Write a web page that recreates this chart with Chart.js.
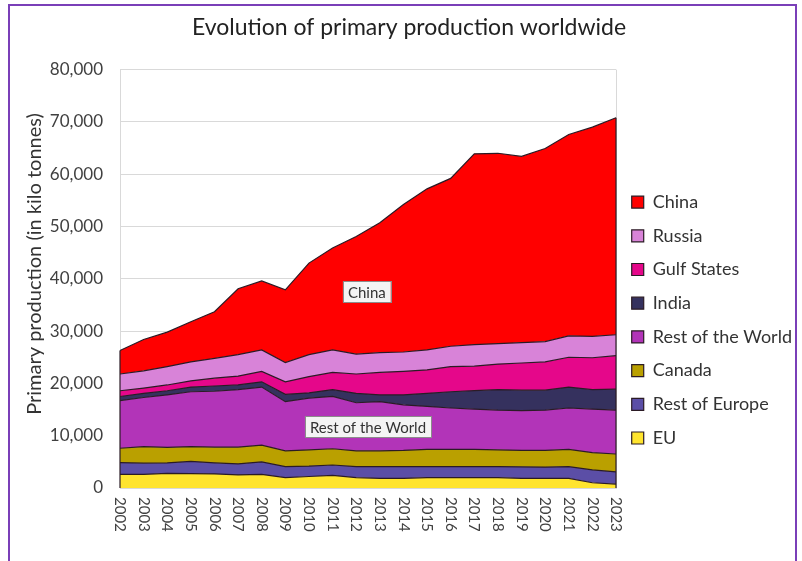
<!DOCTYPE html>
<html>
<head>
<meta charset="utf-8">
<script src="https://cdn.jsdelivr.net/npm/chart.js@4.4.0/dist/chart.umd.min.js"></script>
<style>
  html, body { margin: 0; padding: 0; background: #fff; }
  #wrap { position: relative; width: 802px; height: 561px; overflow: hidden; }
  #frame { position: absolute; left: 8px; top: 4px; width: 789px; height: 620px; border: 2px solid #7a3fb8; box-sizing: border-box; pointer-events: none; }
  canvas { display: block; }
</style>
</head>
<body>
<div id="wrap">
  <canvas id="prodChart" width="802" height="561"></canvas>
  <div id="frame"></div>
</div>
<script>
// Years on the x axis
const years = ['2002', '2003', '2004', '2005', '2006', '2007', '2008', '2009', '2010', '2011', '2012',
  '2013', '2014', '2015', '2016', '2017', '2018', '2019', '2020', '2021', '2022', '2023'];

// Production per region, kilo tonnes
const eu = [2600, 2600, 2800, 2750, 2700, 2500, 2600, 2000, 2200, 2400, 2000,
  1850, 1850, 2000, 2000, 2000, 2000, 1850, 1850, 1850, 1000, 750];
const restOfEurope = [2250, 2150, 2000, 2350, 2100, 2100, 2400, 2100, 2000, 2000, 2100,
  2250, 2250, 2100, 2100, 2100, 2100, 2200, 2150, 2250, 2450, 2350];
const canada = [2750, 3150, 2950, 2800, 3000, 3200, 3200, 3000, 3100, 3100, 3000,
  3000, 3100, 3300, 3300, 3300, 3200, 3150, 3200, 3300, 3300, 3400];
const restOfWorld = [9100, 9400, 10050, 10500, 10700, 11000, 11100, 9400, 9900, 10000, 9200,
  9400, 8700, 8200, 7900, 7700, 7600, 7600, 7700, 7900, 8350, 8400];
const india = [800, 800, 800, 900, 1000, 900, 1000, 1400, 1000, 1300, 1800,
  1300, 1900, 2500, 3100, 3500, 3900, 3900, 3800, 4000, 3700, 4000];
const gulfStates = [1100, 1000, 1100, 1200, 1500, 1700, 2000, 2400, 3100, 3300, 3700,
  4300, 4500, 4500, 4800, 4700, 4900, 5200, 5400, 5700, 6100, 6400];
const russia = [3200, 3300, 3500, 3600, 3800, 4100, 4100, 3700, 4200, 4300, 3800,
  3800, 3700, 3800, 3900, 4100, 3900, 3900, 3900, 4100, 4100, 4000];
const china = [4500, 6000, 6600, 7700, 8900, 12600, 13200, 13900, 17500, 19500, 22500,
  24800, 28200, 30800, 32100, 36500, 36400, 35600, 36900, 38500, 40000, 41500];

const FONT = 'Lato';
const TEXT = '#404040';
const EDGE = '#2b1b25';

function area(label, data, color, fill) {
  return {
    label: label,
    data: data,
    backgroundColor: color,
    borderColor: EDGE,
    borderWidth: 1.2,
    fill: fill,
    pointRadius: 0,
    tension: 0
  };
}

// Extra drawing: rotated year labels, axis title, stack edges, plot frame and the two boxed notes
const extras = {
  id: 'extras',
  afterDatasetsDraw(chart) {
    const { ctx, chartArea, scales: { x, y } } = chart;
    const totals = years.map((_, i) =>
      chart.data.datasets.reduce((s, ds) => s + ds.data[i], 0));
    ctx.save();
    // light frame on the right side of the plot
    ctx.strokeStyle = '#d9d9d9';
    ctx.lineWidth = 1;
    ctx.beginPath();
    ctx.moveTo(chartArea.right + 0.5, chartArea.top);
    ctx.lineTo(chartArea.right + 0.5, chartArea.bottom);
    ctx.stroke();
    // dark edges closing the stack on both ends
    ctx.strokeStyle = EDGE;
    ctx.lineWidth = 1.2;
    [0, years.length - 1].forEach(i => {
      const px = x.getPixelForValue(i);
      ctx.beginPath();
      ctx.moveTo(px, y.getPixelForValue(0));
      ctx.lineTo(px, y.getPixelForValue(totals[i]));
      ctx.stroke();
    });
    ctx.restore();
  },
  afterDraw(chart) {
    const { ctx, chartArea, scales: { x, y } } = chart;
    ctx.save();
    ctx.font = '15px ' + FONT;
    ctx.fillStyle = TEXT;
    ctx.textAlign = 'left';
    ctx.textBaseline = 'middle';
    years.forEach((yr, i) => {
      ctx.save();
      ctx.translate(x.getPixelForValue(i), chartArea.bottom + 9);
      ctx.rotate(Math.PI / 2);
      ctx.fillText(yr, 0, 0);
      ctx.restore();
    });

    // y axis title
    ctx.save();
    ctx.translate(35, 264);
    ctx.rotate(-Math.PI / 2);
    ctx.font = '20px ' + FONT;
    ctx.fillStyle = '#333';
    ctx.textAlign = 'center';
    ctx.fillText('Primary production (in kilo tonnes)', 0, 0);
    ctx.restore();

    function note(text, idx, val) {
      const cx = x.getPixelForValue(idx);
      const cy = y.getPixelForValue(val);
      ctx.font = '15px ' + FONT;
      const w = ctx.measureText(text).width + 10;
      const h = 21;
      ctx.fillStyle = '#f4f4f4';
      ctx.fillRect(cx - w / 2, cy - h / 2, w, h);
      ctx.strokeStyle = '#8c8c8c';
      ctx.lineWidth = 1;
      ctx.strokeRect(Math.round(cx - w / 2) + 0.5, Math.round(cy - h / 2) + 0.5, Math.round(w), h);
      ctx.fillStyle = '#333';
      ctx.textAlign = 'center';
      ctx.fillText(text, cx, cy + 1);
    }
    note('China', 10.45, 37500);
    note('Rest of the World', 10.5, 11700);
    ctx.restore();
  }
};

const ctx = document.getElementById('prodChart').getContext('2d');
new Chart(ctx, {
  type: 'line',
  data: {
    labels: years,
    datasets: [
      area('EU', eu, '#ffe42e', 'origin'),
      area('Rest of Europe', restOfEurope, '#5b4ea6', '-1'),
      area('Canada', canada, '#baa000', '-1'),
      area('Rest of the World', restOfWorld, '#b234b8', '-1'),
      area('India', india, '#35315e', '-1'),
      area('Gulf States', gulfStates, '#e5078a', '-1'),
      area('Russia', russia, '#d883d8', '-1'),
      area('China', china, '#ff0000', '-1')
    ]
  },
  options: {
    responsive: false,
    animation: false,
    layout: { padding: { left: 16, right: 0, top: 0, bottom: 0 } },
    plugins: {
      title: {
        display: true,
        text: 'Evolution of primary production worldwide',
        font: { family: FONT, size: 23, weight: 'normal' },
        color: '#222',
        padding: { top: 14, bottom: 28 }
      },
      legend: {
        position: 'right',
        reverse: true,
        align: 'start',
        title: { display: true, text: '', padding: 81.5 },
        labels: {
          font: { family: FONT, size: 18 },
          color: '#333',
          boxWidth: 12,
          boxHeight: 12,
          padding: 15.7
        }
      },
      tooltip: { enabled: false }
    },
    scales: {
      x: {
        grid: { display: false },
        border: { display: true, color: '#d9d9d9' },
        ticks: { display: false },
        afterFit: s => { s.height = 73; }
      },
      y: {
        stacked: true,
        min: 0,
        max: 80000,
        ticks: {
          stepSize: 10000,
          callback: v => v.toLocaleString('en-US'),
          font: { family: FONT, size: 17 },
          color: TEXT,
          padding: 17
        },
        grid: { color: '#d9d9d9', drawTicks: false },
        border: { display: true, color: '#d9d9d9' },
        afterFit: s => { s.width = 104; }
      }
    }
  },
  plugins: [extras]
});
</script>
</body>
</html>
